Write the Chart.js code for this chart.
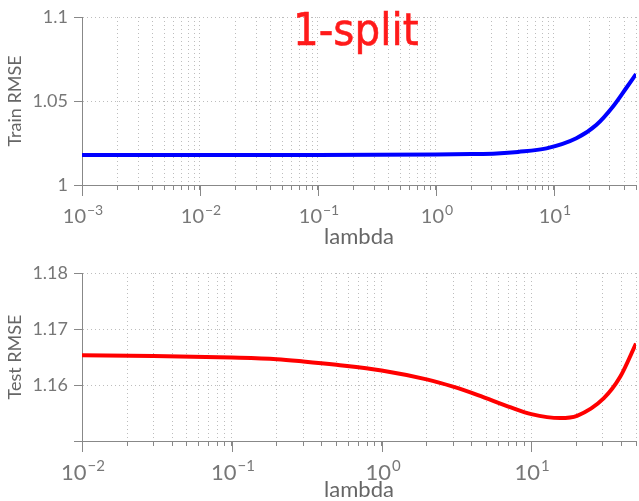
<!DOCTYPE html>
<html>
<head>
<meta charset="utf-8">
<script src="https://cdn.jsdelivr.net/npm/chart.js@4.4.1/dist/chart.umd.min.js"></script>
<style>
  body { margin: 0; background: #fff; width: 639px; height: 501px; overflow: hidden; }
  .box { position: absolute; left: 0; width: 639px; }
  #top-box { top: 0; height: 250px; }
  #bot-box { top: 250px; height: 251px; }
</style>
</head>
<body>
<div class="box" id="top-box"><canvas id="train-chart"></canvas></div>
<div class="box" id="bot-box"><canvas id="test-chart"></canvas></div>
<script>
// values
const trainLambda = [0.001, 0.01, 0.1, 1, 2, 3.3, 5, 8.7, 15.6, 23, 31.8, 41.2, 50];
const trainRmse = [1.0179, 1.0179, 1.0179, 1.0181, 1.0184, 1.0188, 1.0197, 1.0218, 1.0278, 1.0357, 1.0466, 1.0576, 1.066];

const testLambda = [0.01, 0.03, 0.1, 0.2, 0.3, 0.5, 1, 2, 3, 4.4, 7.3, 10, 15.6, 20.2, 30.4, 39.3, 50];
const testRmse = [1.1653, 1.1652, 1.1649, 1.1646, 1.1642, 1.1636, 1.1626, 1.161, 1.1597, 1.1582, 1.156, 1.1548, 1.1541, 1.1545, 1.1576, 1.1615, 1.1674];

const trainYTicks = [1, 1.05, 1.1];
const testYTicks = [1.15, 1.16, 1.17, 1.18];
const trainDecades = [-3, -2, -1, 0, 1];
const testDecades = [-2, -1, 0, 1];

const tickGrey = '#777';
const axisGrey = '#888';
const gridGrey = '#bdbdbd';

// 1..9 in every decade, for the minor grid
function logTicks(decades, max) {
  const out = [];
  decades.forEach(e => {
    for (let m = 1; m < 10; m++) {
      const v = m * Math.pow(10, e);
      if (v <= max) out.push({ value: v });
    }
  });
  return out;
}

// 10^n labels and the long major tick marks under the x axis
function powerLabels(decades, size, drop) {
  return {
    id: 'powerLabels',
    afterDraw(chart) {
      const ctx = chart.ctx;
      const sx = chart.scales.x;
      ctx.save();
      decades.forEach(e => {
        const x = Math.round(sx.getPixelForValue(Math.pow(10, e))) + 0.5;
        ctx.strokeStyle = axisGrey;
        ctx.lineWidth = 1;
        ctx.beginPath();
        ctx.moveTo(x, sx.top);
        ctx.lineTo(x, sx.top + 11);
        ctx.stroke();

        const base = sx.top + drop;
        const exp = (e < 0 ? '\u2212' : '') + Math.abs(e);
        const small = Math.round(size * 0.68);
        ctx.fillStyle = tickGrey;
        ctx.textAlign = 'left';
        ctx.font = size + 'px Lato';
        const w1 = ctx.measureText('10').width;
        ctx.font = small + 'px Lato';
        const w2 = ctx.measureText(exp).width;
        const left = x - (w1 + w2) / 2;
        ctx.font = size + 'px Lato';
        ctx.fillText('10', left, base);
        ctx.font = small + 'px Lato';
        ctx.fillText(exp, left + w1 + 1, base - size * 0.42);
      });
      ctx.restore();
    }
  };
}

const splitNote = {
  id: 'splitNote',
  afterDraw(chart) {
    const ctx = chart.ctx;
    ctx.save();
    ctx.translate(293, 45);
    ctx.scale(0.92, 1);
    ctx.fillStyle = '#ff1a1a';
    ctx.strokeStyle = '#ff1a1a';
    ctx.lineWidth = 0.6;
    ctx.font = '44px "DejaVu Sans"';
    ctx.textAlign = 'left';
    ctx.fillText('1-split', 0, 0);
    ctx.strokeText('1-split', 0, 0);
    ctx.restore();
  }
};

function makeOptions(cfg) {
  return {
    responsive: true,
    maintainAspectRatio: false,
    animation: false,
    layout: { padding: { top: cfg.padTop, right: 0, bottom: 0, left: 0 } },
    plugins: { legend: { display: false }, tooltip: { enabled: false } },
    elements: { point: { radius: 0 } },
    scales: {
      x: {
        type: 'logarithmic',
        min: cfg.xMin,
        max: 50,
        afterBuildTicks: s => { s.ticks = logTicks(cfg.decades, 50); },
        afterFit: s => { s.height = cfg.xHeight; },
        ticks: { autoSkip: false, maxRotation: 0, callback: () => '' },
        grid: { color: gridGrey, tickColor: axisGrey, tickLength: 5 },
        border: { display: true, color: axisGrey, width: 1, dash: [1, 3] },
        title: {
          display: true, text: 'lambda', color: '#666',
          font: { family: 'Lato', size: 22, lineHeight: 1 },
          padding: { top: 0, bottom: cfg.titlePad }
        }
      },
      y: {
        min: cfg.yTicks[0],
        max: cfg.yTicks[cfg.yTicks.length - 1],
        afterBuildTicks: s => { s.ticks = cfg.yTicks.map(v => ({ value: v })); },
        afterFit: s => { s.width = 82; },
        ticks: {
          color: tickGrey, padding: 6,
          font: { family: 'Lato', size: 18 },
          callback: v => (cfg.hideFirst && v === cfg.yTicks[0]) ? '' : String(+v.toFixed(3))
        },
        grid: { color: gridGrey, tickColor: axisGrey, tickLength: 8 },
        border: { display: true, color: axisGrey, width: 1, dash: [1, 3] },
        title: {
          display: true, text: cfg.yTitle, color: '#666',
          font: { family: 'Lato', size: 18, lineHeight: 1 },
          padding: { top: 6, bottom: 0 }
        }
      }
    }
  };
}

new Chart(document.getElementById('train-chart'), {
  type: 'line',
  data: {
    datasets: [{
      data: trainLambda.map((l, i) => ({ x: l, y: trainRmse[i] })),
      borderColor: '#0000ff',
      borderWidth: 4,
      cubicInterpolationMode: 'monotone'
    }]
  },
  options: makeOptions({
    padTop: 17, xMin: 0.001, decades: trainDecades, xHeight: 65, titlePad: 2,
    yTicks: trainYTicks, yTitle: 'Train RMSE', hideFirst: false
  }),
  plugins: [powerLabels(trainDecades, 20, 38), splitNote]
});

new Chart(document.getElementById('test-chart'), {
  type: 'line',
  data: {
    datasets: [{
      data: testLambda.map((l, i) => ({ x: l, y: testRmse[i] })),
      borderColor: '#ff0000',
      borderWidth: 4,
      cubicInterpolationMode: 'monotone'
    }]
  },
  options: makeOptions({
    padTop: 23, xMin: 0.01, decades: testDecades, xHeight: 60, titlePad: 0,
    yTicks: testYTicks, yTitle: 'Test RMSE', hideFirst: true
  }),
  plugins: [powerLabels(testDecades, 22, 39)]
});
</script>
</body>
</html>
